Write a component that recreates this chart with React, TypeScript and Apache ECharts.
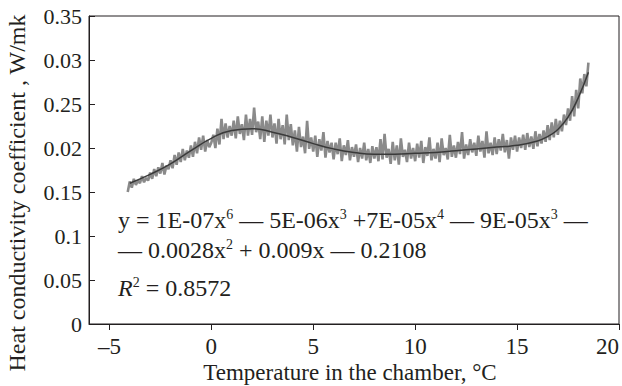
import React, { useEffect, useRef } from "react";
import * as echarts from "echarts";

// Measured temperature, °C
const temperature: number[] = [
  -4.1, -4.0, -3.9, -3.8, -3.7, -3.6, -3.5, -3.4, -3.3, -3.2, -3.1,
  -3.0, -2.9, -2.8, -2.7, -2.6, -2.5, -2.4, -2.3, -2.2, -2.1,
  -2.0, -1.9, -1.8, -1.7, -1.6, -1.5, -1.4, -1.3, -1.2, -1.1,
  -1.0, -0.9, -0.8, -0.7, -0.6, -0.5, -0.4, -0.3, -0.2, -0.1,
  0.0, 0.1, 0.2, 0.3, 0.4, 0.5, 0.6, 0.7, 0.8, 0.9,
  1.0, 1.1, 1.2, 1.3, 1.4, 1.5, 1.6, 1.7, 1.8, 1.9,
  2.0, 2.1, 2.2, 2.3, 2.4, 2.5, 2.6, 2.7, 2.8, 2.9,
  3.0, 3.1, 3.2, 3.3, 3.4, 3.5, 3.6, 3.7, 3.8, 3.9,
  4.0, 4.1, 4.2, 4.3, 4.4, 4.5, 4.6, 4.7, 4.8, 4.9,
  5.0, 5.1, 5.2, 5.3, 5.4, 5.5, 5.6, 5.7, 5.8, 5.9,
  6.0, 6.1, 6.2, 6.3, 6.4, 6.5, 6.6, 6.7, 6.8, 6.9,
  7.0, 7.1, 7.2, 7.3, 7.4, 7.5, 7.6, 7.7, 7.8, 7.9,
  8.0, 8.1, 8.2, 8.3, 8.4, 8.5, 8.6, 8.7, 8.8, 8.9,
  9.0, 9.1, 9.2, 9.3, 9.4, 9.5, 9.6, 9.7, 9.8, 9.9,
  10.0, 10.1, 10.2, 10.3, 10.4, 10.5, 10.6, 10.7, 10.8, 10.9,
  11.0, 11.1, 11.2, 11.3, 11.4, 11.5, 11.6, 11.7, 11.8, 11.9,
  12.0, 12.1, 12.2, 12.3, 12.4, 12.5, 12.6, 12.7, 12.8, 12.9,
  13.0, 13.1, 13.2, 13.3, 13.4, 13.5, 13.6, 13.7, 13.8, 13.9,
  14.0, 14.1, 14.2, 14.3, 14.4, 14.5, 14.6, 14.7, 14.8, 14.9,
  15.0, 15.1, 15.2, 15.3, 15.4, 15.5, 15.6, 15.7, 15.8, 15.9,
  16.0, 16.1, 16.2, 16.3, 16.4, 16.5, 16.6, 16.7, 16.8, 16.9,
  17.0, 17.1, 17.2, 17.3, 17.4, 17.5, 17.6, 17.7, 17.8, 17.9,
  18.0, 18.1, 18.2, 18.3, 18.4, 18.5,
];

// Measured heat conductivity coefficient, W/mK
const conductivity: number[] = [
  0.150, 0.162, 0.155, 0.165, 0.158, 0.163, 0.160, 0.168, 0.161, 0.166, 0.163,
  0.172, 0.165, 0.176, 0.168, 0.178, 0.171, 0.183, 0.170, 0.180, 0.176,
  0.186, 0.177, 0.192, 0.181, 0.195, 0.184, 0.199, 0.186, 0.197, 0.189,
  0.203, 0.190, 0.207, 0.194, 0.212, 0.198, 0.214, 0.196, 0.209, 0.201,
  0.206, 0.215, 0.200, 0.222, 0.204, 0.233, 0.210, 0.228, 0.212, 0.225,
  0.214, 0.231, 0.211, 0.236, 0.216, 0.227, 0.209, 0.238, 0.214, 0.233,
  0.215, 0.246, 0.218, 0.230, 0.210, 0.236, 0.207, 0.231, 0.214, 0.238,
  0.212, 0.228, 0.205, 0.233, 0.210, 0.226, 0.204, 0.238, 0.209, 0.227,
  0.203, 0.220, 0.196, 0.224, 0.201, 0.213, 0.194, 0.231, 0.199, 0.212,
  0.196, 0.214, 0.190, 0.210, 0.197, 0.218, 0.189, 0.208, 0.195, 0.206,
  0.187, 0.206, 0.193, 0.211, 0.185, 0.203, 0.192, 0.209, 0.186, 0.201,
  0.190, 0.204, 0.184, 0.200, 0.188, 0.206, 0.186, 0.199, 0.183, 0.202,
  0.188, 0.201, 0.185, 0.210, 0.187, 0.216, 0.189, 0.199, 0.182, 0.207,
  0.186, 0.203, 0.181, 0.211, 0.190, 0.198, 0.184, 0.206, 0.188, 0.200,
  0.185, 0.205, 0.189, 0.208, 0.183, 0.201, 0.191, 0.212, 0.186, 0.199,
  0.188, 0.206, 0.184, 0.211, 0.192, 0.200, 0.187, 0.215, 0.190, 0.203,
  0.189, 0.207, 0.193, 0.218, 0.188, 0.204, 0.192, 0.210, 0.195, 0.206,
  0.191, 0.214, 0.196, 0.208, 0.189, 0.219, 0.194, 0.206, 0.192, 0.212,
  0.193, 0.210, 0.197, 0.216, 0.195, 0.209, 0.188, 0.212, 0.198, 0.214,
  0.196, 0.212, 0.200, 0.215, 0.198, 0.217, 0.201, 0.213, 0.199, 0.219,
  0.202, 0.216, 0.205, 0.220, 0.207, 0.226, 0.209, 0.229, 0.212, 0.233,
  0.215, 0.231, 0.219, 0.238, 0.226, 0.245, 0.231, 0.259, 0.236, 0.266,
  0.245, 0.279, 0.262, 0.284, 0.270, 0.297,
];

// Polynomial trend line
const trendTemperature: number[] = [
  -4.0, -3, -2, -1, 0, 1, 2, 3, 4, 5, 6, 7, 8, 9, 10, 11, 12, 13, 14, 15, 16, 16.5, 17, 17.5, 18, 18.5,
];
const trendConductivity: number[] = [
  0.160, 0.170, 0.182, 0.197, 0.211, 0.220, 0.222, 0.218, 0.212, 0.205, 0.199, 0.195, 0.193,
  0.193, 0.194, 0.195, 0.197, 0.199, 0.201, 0.203, 0.208, 0.213, 0.221, 0.235, 0.257, 0.286,
];

const xTickValues: number[] = [-5, 0, 5, 10, 15, 20];
const yTickLabels: string[] = ["0", "0.05", "0.1", "0.15", "0.02", "0.25", "0.03", "0.35"];

const FONT = "'Liberation Serif', 'Times New Roman', serif";
const INK = "#231f20";

export default function App() {
  const ref = useRef<HTMLDivElement>(null);
  useEffect(() => {
    if (!ref.current) return;
    const chart = echarts.init(ref.current, undefined, { renderer: "svg" });
    const raw = temperature.map((t, i) => [t, conductivity[i]]);
    const trend = trendTemperature.map((t, i) => [t, trendConductivity[i]]);
    const sup = { fontSize: 14, fontFamily: FONT, fill: INK, verticalAlign: "top" as const, lineHeight: 26 };
    const nrm = { fontSize: 24, fontFamily: FONT, fill: INK, lineHeight: 26 };
    const it = { fontSize: 24, fontFamily: FONT, fill: INK, fontStyle: "italic" as const, lineHeight: 26 };
    chart.setOption({
      animation: false,
      grid: { left: 89, right: 2, top: 16, bottom: 62, show: true, borderColor: INK, borderWidth: 1 },
      xAxis: {
        type: "value",
        min: -6,
        max: 20,
        axisLine: { show: true, onZero: false, lineStyle: { color: INK, width: 1 } },
        axisTick: { show: true, inside: false, length: 6, customValues: xTickValues, lineStyle: { color: INK } },
        axisLabel: {
          customValues: xTickValues,
          fontFamily: FONT,
          fontSize: 23,
          color: INK,
          margin: 11,
          alignMaxLabel: "right",
          formatter: (v: number) => (v < 0 ? "\u2013" + Math.abs(v) : String(v)),
        },
        splitLine: { show: false },
      },
      yAxis: {
        type: "value",
        min: 0,
        max: 0.35,
        interval: 0.05,
        axisLine: { show: true, onZero: false, lineStyle: { color: INK, width: 1 } },
        axisTick: { show: true, inside: true, length: 6, lineStyle: { color: INK } },
        axisLabel: {
          fontFamily: FONT,
          fontSize: 22,
          color: INK,
          margin: 7,
          formatter: (v: number) => yTickLabels[Math.round(v / 0.05)] ?? "",
        },
        splitLine: { show: false },
      },
      graphic: [
        {
          type: "text",
          x: 17,
          y: 193,
          rotation: Math.PI / 2,
          style: {
            text: "Heat conductivity coefficient , W/mk",
            fontFamily: FONT,
            fontSize: 24,
            fill: INK,
            align: "center",
            verticalAlign: "middle",
          },
        },
        {
          type: "text",
          x: 350,
          y: 372,
          style: {
            text: "Temperature in the chamber, \u00B0C",
            fontFamily: FONT,
            fontSize: 23,
            fill: INK,
            align: "center",
            verticalAlign: "middle",
          },
        },
        {
          type: "text",
          x: 118,
          y: 220,
          style: {
            text: "{n|y = 1E-07x}{s|6}{n| \u2014 5E-06x}{s|3}{n| +7E-05x}{s|4}{n| \u2014 9E-05x}{s|3}{n| \u2014}",
            verticalAlign: "middle",
            rich: { n: nrm, s: sup },
          },
        },
        {
          type: "text",
          x: 118,
          y: 250,
          style: {
            text: "{n|\u2014 0.0028x}{s|2}{n| + 0.009x \u2014 0.2108}",
            verticalAlign: "middle",
            rich: { n: nrm, s: sup },
          },
        },
        {
          type: "text",
          x: 118,
          y: 288,
          style: {
            text: "{i|R}{s|2}{n| = 0.8572}",
            verticalAlign: "middle",
            rich: { n: nrm, s: sup, i: it },
          },
        },
      ],
      series: [
        {
          type: "line",
          data: raw,
          showSymbol: false,
          symbol: "none",
          lineStyle: { color: "#8a8a8a", width: 2.6 },
          z: 2,
        },
        {
          type: "line",
          data: trend,
          smooth: 0.5,
          showSymbol: false,
          symbol: "none",
          lineStyle: { color: "#3a3a3a", width: 1.5 },
          z: 3,
        },
      ],
    });
    return () => chart.dispose();
  }, []);
  return <div ref={ref} style={{ width: 622, height: 386, position: "absolute", left: 0, top: 0 }} />;
}
